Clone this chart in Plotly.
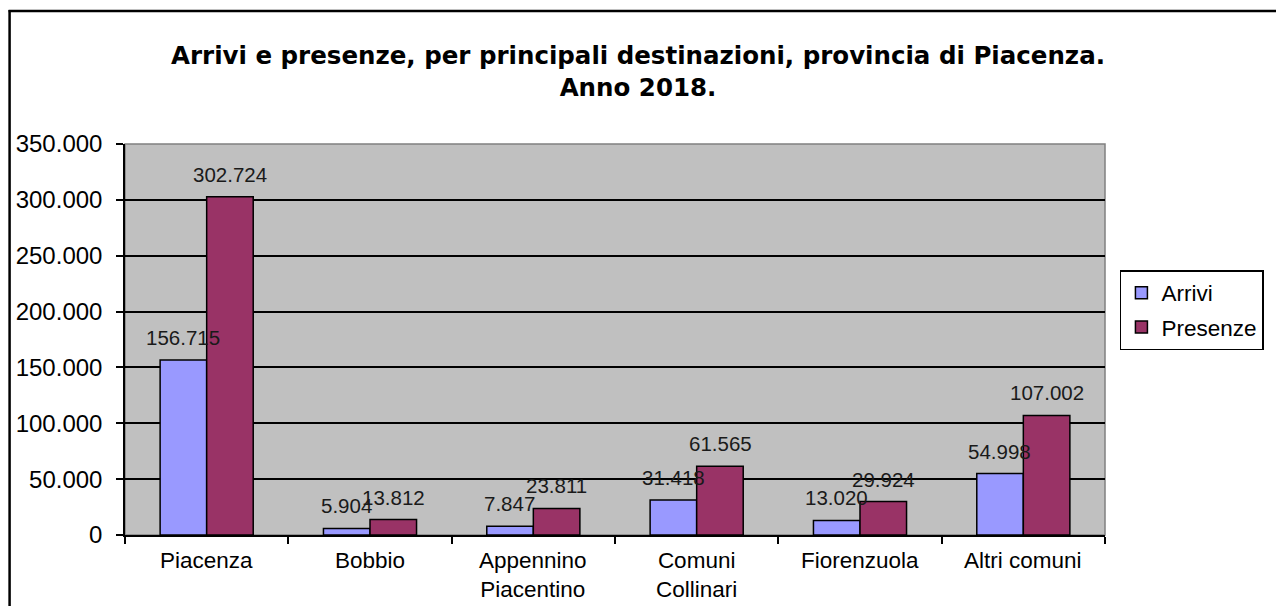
import plotly.graph_objects as go

categories = ["Piacenza", "Bobbio", "Appennino<br>Piacentino", "Comuni<br>Collinari", "Fiorenzuola", "Altri comuni"]
arrivi = [156715, 5904, 7847, 31418, 13020, 54998]
presenze = [302724, 13812, 23811, 61565, 29924, 107002]
tick_vals = [0, 50000, 100000, 150000, 200000, 250000, 300000, 350000]
title_text = "Arrivi e presenze, per principali destinazioni, provincia di Piacenza.<br>Anno 2018."

FONT = "Liberation Sans, Arial, sans-serif"
TFONT = "DejaVu Sans, Liberation Sans, sans-serif"
W, H = 1276, 606
L, R, T, B = 125, 166, 144, 71
pw, ph = W - L - R, H - T - B

def px_x(x):
    return (x - L) / pw

def px_y(y):
    return (H - B - y) / ph

fig = go.Figure()
fig.add_trace(go.Bar(name="Arrivi", x=categories, y=arrivi, legendgroup="a",
                     marker=dict(color="#9999FF", line=dict(color="#000000", width=1.5))))
fig.add_trace(go.Bar(name="Presenze", x=categories, y=presenze, legendgroup="b",
                     marker=dict(color="#993366", line=dict(color="#000000", width=1.5))))

cat_w = pw / len(categories)
bargap = 0.43
bar_w = cat_w * (1 - bargap) / 2

def fmt(v):
    return f"{v:,}".replace(",", ".")

# data labels (annotations so they sit above neighbouring bars, as in Excel)
for series, sh in ((arrivi, -bar_w / 2), (presenze, bar_w / 2)):
    for c, v in zip(categories, series):
        fig.add_annotation(x=c, y=v, xref="x", yref="y", text=fmt(v), showarrow=False,
                           xshift=sh, yshift=9, yanchor="bottom",
                           font=dict(family=FONT, size=20.5, color="#1a1a1a"))

# category labels
for c in categories:
    fig.add_annotation(x=c, y=0, xref="x", yref="paper", text=c, showarrow=False,
                       yanchor="top", yshift=-11, align="center",
                       font=dict(family=FONT, size=22.5, color="#000000"))

# title
fig.add_annotation(x=px_x(641), y=px_y(72), xref="paper", yref="paper",
                   text=f"<b>{title_text}</b>", showarrow=False, xanchor="center", yanchor="middle",
                   align="center", font=dict(family=TFONT, size=24.5, color="#000000"))

# outer chart border (left and top edges are visible)
fig.add_shape(type="line", xref="paper", yref="paper", x0=px_x(9), x1=px_x(9), y0=px_y(H + 20), y1=px_y(10),
              line=dict(color="#000000", width=2.5), layer="above")
fig.add_shape(type="line", xref="paper", yref="paper", x0=px_x(8), x1=px_x(W + 20), y0=px_y(11), y1=px_y(11),
              line=dict(color="#000000", width=2.5), layer="above")
# plot area border
fig.add_shape(type="rect", xref="paper", yref="paper", x0=0, x1=1, y0=0, y1=1,
              line=dict(color="#808080", width=1.5), fillcolor="rgba(0,0,0,0)", layer="below")

fig.update_layout(
    width=W, height=H,
    margin=dict(l=L, r=R, t=T, b=B, pad=0),
    paper_bgcolor="#FFFFFF", plot_bgcolor="#C0C0C0",
    separators=",.",
    barmode="group", bargap=bargap, bargroupgap=0,
    font=dict(family=FONT, color="#000000"),
    legend=dict(x=px_x(1125), y=px_y(270), xanchor="left", yanchor="top",
                bgcolor="#FFFFFF", bordercolor="#000000", borderwidth=1.5,
                font=dict(family=FONT, size=22.5, color="#000000"),
                itemwidth=30, tracegroupgap=2, traceorder="grouped"),
    showlegend=True,
)
fig.update_xaxes(showline=True, linecolor="#000000", linewidth=1.5,
                 ticks="outside", tickson="boundaries", ticklen=7, tickcolor="#000000", tickwidth=1.5,
                 showticklabels=False, showgrid=False)
fig.update_yaxes(range=[0, 350000], tickvals=tick_vals, tickformat=",d",
                 showline=True, linecolor="#000000", linewidth=1.5,
                 ticks="outside", ticklen=7, tickcolor="#000000", tickwidth=1.5,
                 ticklabelstandoff=9,
                 showgrid=True, gridcolor="#000000", gridwidth=1.5, zeroline=False,
                 tickfont=dict(family=FONT, size=24, color="#000000"))

fig.write_html("out.html", config={"displayModeBar": False},
               post_script="document.documentElement.style.overflow='hidden';"
                           "document.body.style.margin='0';document.body.style.overflow='hidden';")
